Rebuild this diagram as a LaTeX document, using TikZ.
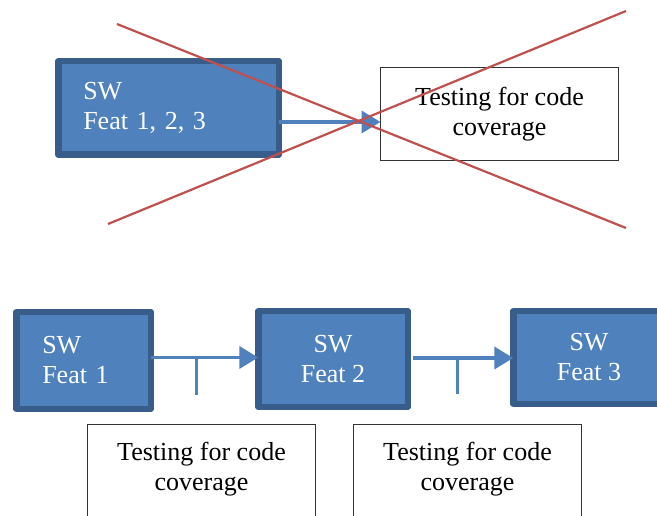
\documentclass[tikz,border=0pt]{standalone}
\usepackage{fontspec}
\setmainfont{Liberation Serif}
\usetikzlibrary{arrows.meta,positioning}
\definecolor{swfill}{HTML}{4F81BD}
\definecolor{swline}{HTML}{385D8A}
\definecolor{crossred}{HTML}{C0504D}
\tikzset{
  swbox/.style={draw=swline,fill=swfill,line width=6.5pt,line join=round,text=white,
    font=\fontsize{26}{30}\selectfont,outer sep=0pt},
  testbox/.style={draw=black!80,line width=1pt,fill=white,outer sep=0pt},
  testtext/.style={font=\fontsize{26}{30}\selectfont,align=center,inner sep=0pt},
  flow/.style={draw=swfill,line width=3.8pt,-{Triangle[length=19pt,width=22pt]}},
  tick/.style={draw=swfill,line width=3pt},
  cross/.style={draw=crossred,line width=2.2pt}
}
\begin{document}
\begin{tikzpicture}[x=1pt,y=-1pt]
\clip (0,0) rectangle (657,516);
% the one that is crossed out
\node[swbox,minimum width=220.5pt,minimum height=93.5pt,text width=170.5pt,inner xsep=25pt,align=left] (feats) at (168.5,108) {SW\\Feat 1, 2, 3};
\node[testbox,minimum width=238pt,minimum height=93pt,testtext] (testall) at (499.5,114) {Testing for code\\coverage};
\coordinate (a0) at ([yshift=-14pt]feats.east);
\draw[flow] (a0) -- (a0 -| testall.west);
\coordinate (c1) at (117,24);
\coordinate (c2) at (626,228);
\coordinate (c3) at (108,224);
\coordinate (c4) at (626,11);
\draw[cross] (c1) -- (c2);
\draw[cross] (c3) -- (c4);
% one feature at a time
\node[swbox,minimum width=134.5pt,minimum height=96.5pt,text width=82.5pt,inner xsep=26pt,align=left] (featA) at (83.5,360.5) {SW\\Feat 1};
\node[swbox,minimum width=149.5pt,minimum height=95.5pt,align=center] (featB) at (333,359) {SW\\Feat 2};
\node[swbox,minimum width=151.5pt,minimum height=92.5pt,align=center] (featC) at (589,357.5) {SW\\Feat 3};
\node[testbox,minimum width=228pt,minimum height=120pt,anchor=north] (testA) at (201.5,424) {};
\node[testtext,anchor=north] (txtA) at ([yshift=-18pt]testA.north) {Testing for code\\coverage};
\node[testbox,minimum width=228pt,minimum height=120pt,anchor=north] (testB) at (467.5,424) {};
\node[testtext,anchor=north] (txtB) at ([yshift=-18pt]testB.north) {Testing for code\\coverage};
\coordinate (a1) at ([yshift=3pt]featA.east);
\coordinate (a2) at ([xshift=5pt,yshift=1pt]featB.east);
\draw[flow] (a1) -- (a1 -| featB.west);
\draw[flow] (a2) -- (a2 -| featC.west);
\coordinate (t1) at (196,357.5);
\coordinate (t2) at (457,358);
\draw[tick] (t1) -- ++(0,37);
\draw[tick] (t2) -- ++(0,36);
\end{tikzpicture}
\end{document}
